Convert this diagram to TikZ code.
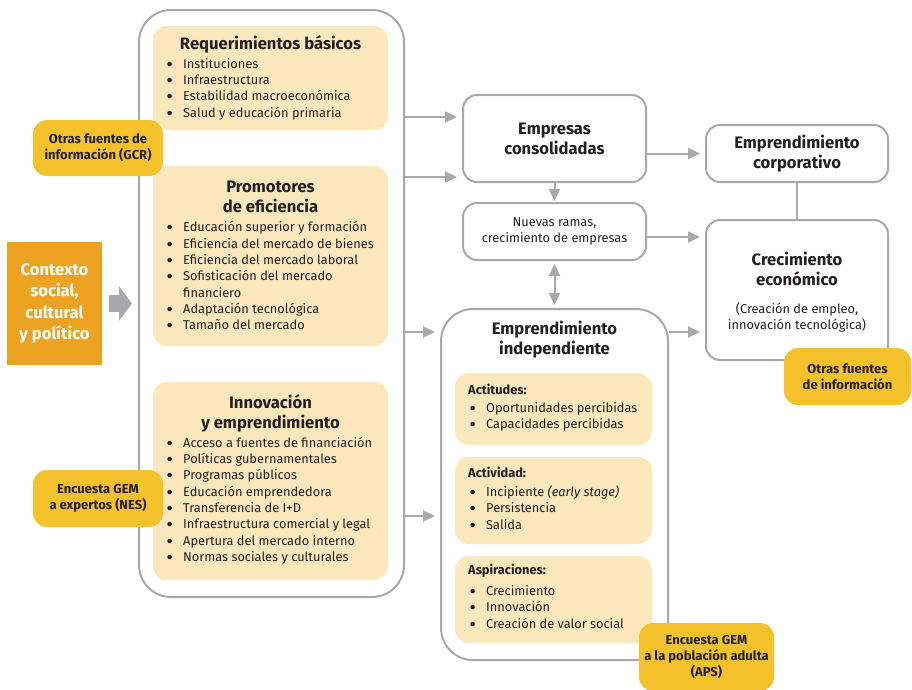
\documentclass[tikz,border=0pt]{standalone}
\usepackage{fontspec}
\setmainfont{Fira Sans}
\newfontfamily\bulfont{PT Sans}
\usetikzlibrary{arrows.meta}
\definecolor{lineg}{HTML}{A7A9AC}
\definecolor{paley}{HTML}{FDE8BD}
\definecolor{gold}{HTML}{F6C22B}
\definecolor{orng}{HTML}{EEA222}
\definecolor{txt}{HTML}{231F20}
\newcommand\bu{\raisebox{-1pt}{\fontsize{16}{16}\bulfont\selectfont\textbullet}}
\newcommand\blist[1]{\begin{tabular}{@{}p{17pt}@{}l@{}}#1\end{tabular}}
\tikzset{
  outerbox/.style={draw=lineg, line width=2pt, rounded corners=32pt, fill=white},
  wbox/.style={draw=lineg, line width=2pt, rounded corners=14pt, fill=white, text=txt},
  ybox/.style={fill=paley, rounded corners=14pt},
  gbox/.style={fill=gold, rounded corners=14pt, text=txt, align=center, font=\fontsize{13}{16}\selectfont\bfseries},
  ttl/.style={text=txt, align=center, font=\fontsize{16.6}{20}\selectfont\bfseries, inner sep=0pt},
  lst/.style={text=txt, anchor=west, inner sep=0pt, font=\fontsize{12.8}{16.3}\selectfont},
  hdr/.style={text=txt, anchor=west, inner sep=0pt, font=\fontsize{12.8}{16}\selectfont\bfseries},
  arr/.style={draw=lineg, line width=2pt, -{Triangle[length=12pt,width=11pt]}},
  darr/.style={draw=lineg, line width=2pt, {Triangle[length=12pt,width=11pt]}-{Triangle[length=12pt,width=11pt]}},
}
\begin{document}
\begin{tikzpicture}[x=1pt,y=-1pt]
\useasboundingbox (0,0) rectangle (912,689);
\fill[white] (0,0) rectangle (912,689);

% left big box
\node[outerbox, minimum width=265pt, minimum height=587pt] (outer) at (271.5,303.5) {};
\node[ybox, minimum width=235pt, minimum height=104pt] (req) at (270.5,78) {};
\node[ybox, minimum width=235pt, minimum height=180pt] (prom) at (270.5,256) {};
\node[ybox, minimum width=235pt, minimum height=198pt] (innov) at (270.5,481) {};

\node[ttl] (reqt) at (270.5,44) {Requerimientos básicos};
\node[lst] (reql) at (166,89.5) {\blist{\bu & Instituciones\\ \bu & Infraestructura\\ \bu & Estabilidad macroeconómica\\ \bu & Salud y educación primaria}};

\node[ttl] (promt) at (270.5,197) {Promotores\\de eficiencia};
\node[lst] (proml) at (166,277.5) {\blist{\bu & Educación superior y formación\\ \bu & Eficiencia del mercado de bienes\\ \bu & Eficiencia del mercado laboral\\ \bu & Sofisticación del mercado\\ & financiero\\ \bu & Adaptación tecnológica\\ \bu & Tamaño del mercado}};

\node[ttl] (innovt) at (270.5,413) {Innovación\\y emprendimiento};
\node[lst] (innovl) at (166,501) {\blist{\bu & Acceso a fuentes de financiación\\ \bu & Políticas gubernamentales\\ \bu & Programas públicos\\ \bu & Educación emprendedora\\ \bu & Transferencia de I+D\\ \bu & Infraestructura comercial y legal\\ \bu & Apertura del mercado interno\\ \bu & Normas sociales y culturales}};

% context
\node[fill=orng, minimum width=95pt, minimum height=123pt, text=white, align=center, font=\fontsize{16.6}{21.3}\selectfont\bfseries] (ctx) at (54.5,303.5) {Contexto\\social,\\cultural\\y político};
\draw[draw=lineg, line width=17pt, -{Triangle[length=13pt,width=34pt]}] ([xshift=7pt]ctx.east) -- ([xshift=-6pt]outer.west);

\node[gbox, minimum width=130pt, minimum height=56pt] (gcr) at (98,148) {Otras fuentes de\\información (GCR)};
\node[gbox, minimum width=130pt, minimum height=57pt] (nes) at (98,498.5) {Encuesta GEM\\a expertos (NES)};

% right side boxes
\node[wbox, minimum width=183pt, minimum height=87pt, align=center, font=\fontsize{16.6}{20}\selectfont\bfseries] (emp) at (554.5,138.5) {Empresas\\consolidadas};
\node[wbox, minimum width=182pt, minimum height=57pt, align=center, font=\fontsize{16.6}{20}\selectfont\bfseries] (corp) at (797,153.5) {Emprendimiento\\corporativo};
\node[wbox, minimum width=183pt, minimum height=57pt, align=center, font=\fontsize{12.8}{16}\selectfont] (ramas) at (554.5,231.5) {Nuevas ramas,\\crecimiento de empresas};
\node[wbox, minimum width=182pt, minimum height=140pt] (crec) at (797,290) {};
\node[ttl] (crect) at (797,269) {Crecimiento\\económico};
\node[text=txt, align=center, inner sep=0pt, font=\fontsize{12.8}{16}\selectfont] (crecs) at (797,317.5) {(Creación de empleo,\\innovación tecnológica)};

\node[outerbox, minimum width=227pt, minimum height=351pt] (indep) at (554.5,484.5) {};
\node[ttl] (indept) at (554.5,340) {Emprendimiento\\independiente};
\node[ybox, minimum width=197pt, minimum height=72pt] (act) at (553.5,409) {};
\node[ybox, minimum width=197pt, minimum height=87pt] (actv) at (553.5,500.5) {};
\node[ybox, minimum width=197pt, minimum height=87pt] (asp) at (553.5,599.5) {};
\node[hdr] (acth) at (468,389) {Actitudes:};
\node[lst] (actl) at (469,417) {\blist{\bu & Oportunidades percibidas\\ \bu & Capacidades percibidas}};
\node[hdr] (actvh) at (468,472) {Actividad:};
\node[lst] (actvl) at (469,509.5) {\blist{\bu & Incipiente \textit{(early stage)}\\ \bu & Persistencia\\ \bu & Salida}};
\node[hdr] (asph) at (468,571) {Aspiraciones:};
\node[lst] (aspl) at (469,608.5) {\blist{\bu & Crecimiento\\ \bu & Innovación\\ \bu & Creación de valor social}};

\node[gbox, minimum width=127pt, minimum height=57pt] (otras) at (847.5,376.5) {Otras fuentes\\de información};
\node[gbox, minimum width=135pt, minimum height=68pt] (aps) at (706.5,657) {Encuesta GEM\\a la población adulta\\(APS)};

% connectors
\draw[arr, shorten >=5pt] (outer.east |- 0,117) -- (emp.west |- 0,117);
\draw[arr, shorten >=5pt] (outer.east |- 0,177) -- (emp.west |- 0,177);
\draw[arr, shorten >=5pt] (outer.east |- 0,332) -- (indep.west |- 0,332);
\draw[arr, shorten >=5pt] (outer.east |- 0,516) -- (indep.west |- 0,516);
\draw[arr, shorten >=5pt] (emp.east |- corp.west) -- (corp.west);
\draw[arr, shorten >=1pt] (emp.south) -- (ramas.north);
\draw[arr, shorten >=5pt] (ramas.east |- 0,237) -- (crec.west |- 0,237);
\draw[draw=lineg, line width=2pt] (corp.south) -- (crec.north);
\draw[darr, shorten >=3pt, shorten <=3pt] (ramas.south) -- (indep.north);
\draw[arr, shorten >=5pt] (indep.east |- 0,332) -- (crec.west |- 0,332);
\end{tikzpicture}
\end{document}
